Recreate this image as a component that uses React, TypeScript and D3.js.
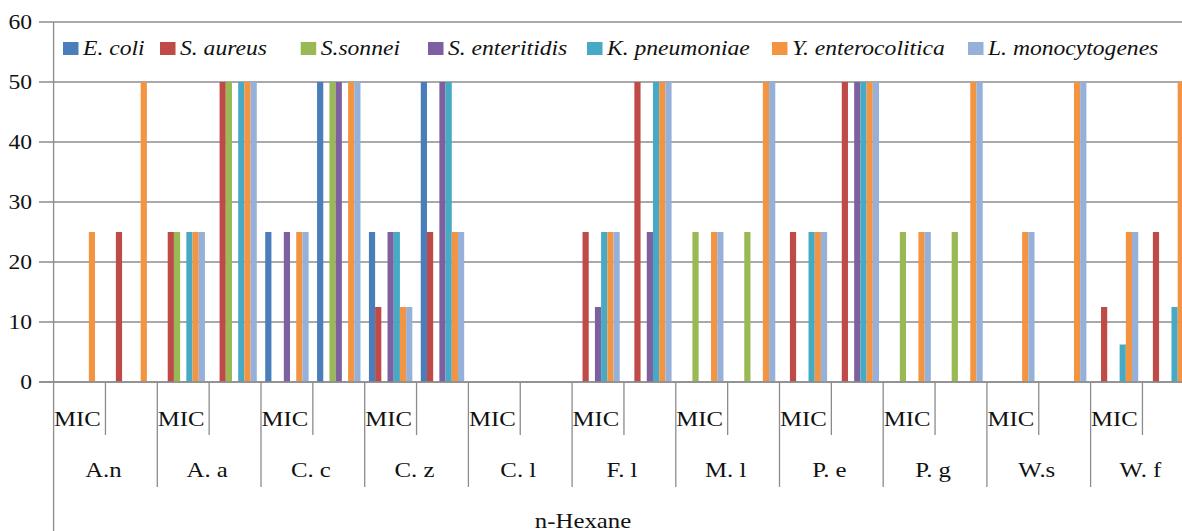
import React from "react";
import * as d3 from "d3";

// Plant extracts (n-Hexane fraction) and the two readings shown for each
const groups = ["A.n", "A. a", "C. c", "C. z", "C. l", "F. l", "M. l", "P. e", "P. g", "W.s", "W. f"];
const subLabels = ["MIC", ""];
const seriesNames = [
  "E. coli",
  "S. aureus",
  "S.sonnei",
  "S. enteritidis",
  "K. pneumoniae",
  "Y. enterocolitica",
  "L. monocytogenes",
];
const seriesColors = ["#4A7EBB", "#BE4B48", "#98B954", "#7D60A0", "#46AAC5", "#F39443", "#95B1DA"];

// Values per extract, in pairs: [MIC, second reading]
const eColi = [0, 0, 0, 0, 25, 50, 25, 50, 0, 0, 0, 0, 0, 0, 0, 0, 0, 0, 0, 0, 0, 0];
const sAureus = [0, 25, 25, 50, 0, 0, 12.5, 25, 0, 0, 25, 50, 0, 0, 25, 50, 0, 0, 0, 0, 12.5, 25];
const sSonnei = [0, 0, 25, 50, 0, 50, 0, 0, 0, 0, 0, 0, 25, 25, 0, 0, 25, 25, 0, 0, 0, 0];
const sEnteritidis = [0, 0, 0, 0, 25, 50, 25, 50, 0, 0, 12.5, 25, 0, 0, 0, 50, 0, 0, 0, 0, 0, 0];
const kPneumoniae = [0, 0, 25, 50, 0, 0, 25, 50, 0, 0, 25, 50, 0, 0, 25, 50, 0, 0, 0, 0, 6.25, 12.5];
const yEnterocolitica = [25, 50, 25, 50, 25, 50, 12.5, 25, 0, 0, 25, 50, 25, 50, 25, 50, 25, 50, 25, 50, 25, 50];
const lMonocytogenes = [0, 0, 25, 50, 25, 50, 12.5, 25, 0, 0, 25, 50, 25, 50, 25, 50, 25, 50, 25, 50, 25, 50];
const seriesValues = [eColi, sAureus, sSonnei, sEnteritidis, kPneumoniae, yEnterocolitica, lMonocytogenes];

const yTicks = [0, 10, 20, 30, 40, 50, 60];
const axisTitle = "n-Hexane";

const W = 1182;
const H = 531;
const FONT = "'Liberation Serif', 'Times New Roman', serif";
const SX = 1.18; // horizontal stretch of the lettering
const GRID = "#8C8C8C";

export default function App() {
  const left = 53.6;
  const right = 1194.3;
  const base = 382;
  const top = 22;

  const keys = groups.flatMap((g) => subLabels.map((_, j) => `${g}|${j}`));
  const x = d3.scaleBand<string>().domain(keys).range([left, right]).paddingInner(0).paddingOuter(0);
  const xs = d3
    .scaleBand<string>()
    .domain(seriesNames)
    .range([0, x.bandwidth()])
    .paddingInner(0)
    .paddingOuter(0.68);
  const y = d3.scaleLinear().domain([0, 60]).range([base, top]);

  const step = x.step();
  const legendX = [63, 160, 300.7, 428, 587, 772, 968];

  return (
    <svg
      width={W}
      height={H}
      style={{ position: "absolute", left: 0, top: 0, background: "#fff" }}
      fontFamily={FONT}
    >
      <rect x={0} y={0} width={W} height={H} fill="#fff" />

      {/* horizontal gridlines with tick stubs */}
      {yTicks.map((t) => (
        <line key={`g${t}`} x1={39} x2={W} y1={y(t)} y2={y(t)} stroke={GRID} strokeWidth={1.3} />
      ))}
      {yTicks.map((t) => (
        <text
          key={`yt${t}`}
          transform={`translate(32,${y(t) + 7}) scale(${SX},1)`}
          textAnchor="end"
          fontSize={20}
          fill="#111"
        >
          {t}
        </text>
      ))}

      {/* bars */}
      {seriesNames.map((s, si) =>
        keys.map((k, ki) => {
          const v = seriesValues[si][ki];
          if (!v) return null;
          return (
            <rect
              key={`${s}-${k}`}
              x={(x(k) as number) + (xs(s) as number)}
              y={y(v)}
              width={xs.bandwidth()}
              height={base - y(v)}
              fill={seriesColors[si]}
            />
          );
        })
      )}

      {/* category axis */}
      <line x1={39} x2={W} y1={base} y2={base} stroke={GRID} strokeWidth={1.3} />
      <line x1={left} x2={left} y1={top} y2={H} stroke={GRID} strokeWidth={1.3} />
      {keys.map((k, ki) => {
        if (ki === 0) return null;
        const bx = x(k) as number;
        const major = ki % subLabels.length === 0;
        return (
          <line key={`ct${k}`} x1={bx} x2={bx} y1={base} y2={major ? 487 : 435} stroke={GRID} strokeWidth={1.3} />
        );
      })}
      <line x1={right} x2={right} y1={base} y2={487} stroke={GRID} strokeWidth={1.3} />

      {keys.map((k, ki) => {
        const label = subLabels[ki % subLabels.length];
        if (!label) return null;
        return (
          <text
            key={`sl${k}`}
            transform={`translate(${(x(k) as number) + 0.5},${426}) scale(${SX},1)`}
            fontSize={21}
            fill="#111"
          >
            {label}
          </text>
        );
      })}
      {groups.map((g, gi) => (
        <text
          key={`gl${g}`}
          transform={`translate(${left + step * subLabels.length * (gi + 0.5) - 2},${477}) scale(${SX},1)`}
          textAnchor="middle"
          fontSize={21}
          fill="#111"
        >
          {g}
        </text>
      ))}
      <text transform={`translate(583,527.5) scale(${SX},1)`} textAnchor="middle" fontSize={21} fill="#111">
        {axisTitle}
      </text>

      {/* legend */}
      {seriesNames.map((s, si) => (
        <g key={`lg${s}`}>
          <rect x={legendX[si]} y={42} width={15.5} height={13} fill={seriesColors[si]} />
          <text
            transform={`translate(${legendX[si] + 20},${55}) scale(${SX},1)`}
            fontSize={20}
            fontStyle="italic"
            fill="#111"
          >
            {s}
          </text>
        </g>
      ))}
    </svg>
  );
}
